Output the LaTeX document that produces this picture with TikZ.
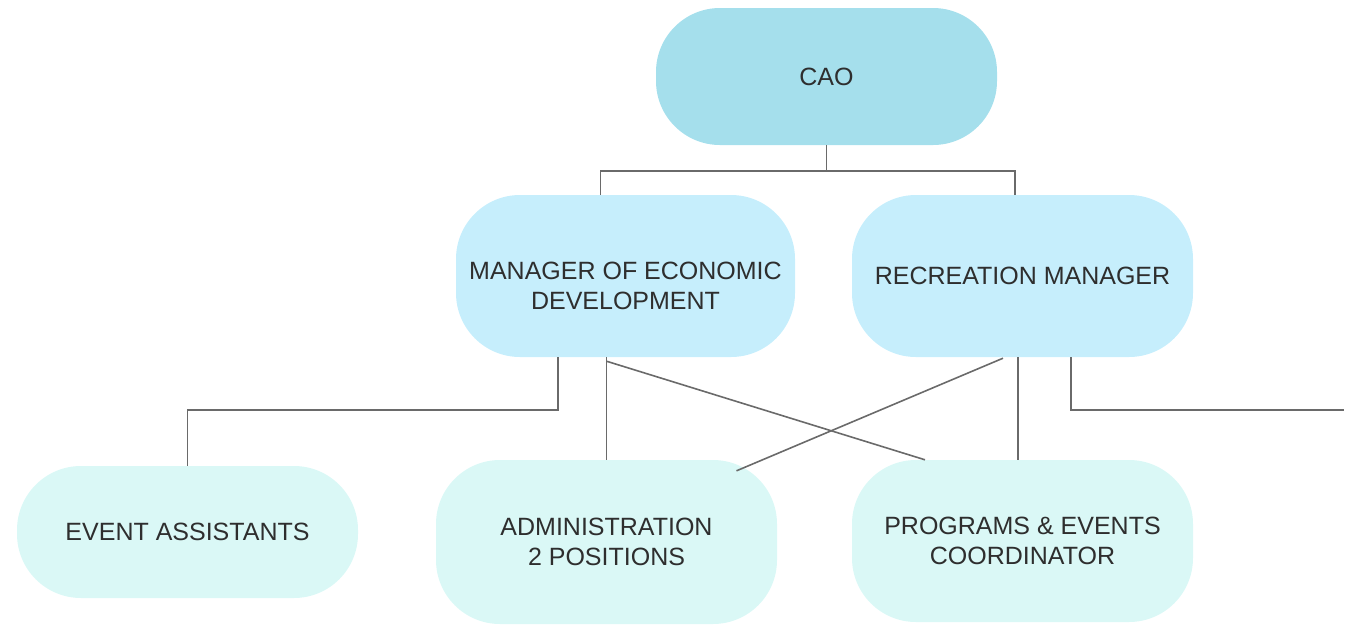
\documentclass[tikz,border=0pt]{standalone}
\usepackage{fontspec}
\setmainfont{Liberation Sans}
\usetikzlibrary{calc}
\definecolor{caofill}{HTML}{A5DFEC}
\definecolor{mgrfill}{HTML}{C6EEFC}
\definecolor{stafffill}{HTML}{DAF8F6}
\definecolor{txt}{HTML}{2E2E2E}
\definecolor{linec}{HTML}{6A6A6A}
\begin{document}
\begin{tikzpicture}[x=1pt,y=-1pt,
  boxfont/.style={font=\fontsize{25}{30}\selectfont, text=txt, align=center},
  box/.style={rounded corners=64pt, minimum width=341pt, boxfont, inner sep=0pt},
  link/.style={draw=linec, line width=1.6pt}]
\useasboundingbox (0,0) rectangle (1358,625);
\node[box, fill=caofill, minimum height=137pt] (cao) at (826.5,76.5) {CAO};
\node[box, fill=mgrfill, minimum height=162pt, minimum width=339pt,
  label={[boxfont, yshift=-10pt]center:{MANAGER OF ECONOMIC\\DEVELOPMENT}}] (med) at (625.5,276) {};
\node[box, fill=mgrfill, minimum height=162pt] (rec) at (1022.5,276) {RECREATION MANAGER};
\node[box, fill=stafffill, minimum height=132pt] (ea) at (187.5,532) {EVENT ASSISTANTS};
\node[box, fill=stafffill, minimum height=164pt] (adm) at (606.5,542) {ADMINISTRATION\\2 POSITIONS};
\node[box, fill=stafffill, minimum height=162pt] (pec) at (1022.5,541) {PROGRAMS \& EVENTS\\COORDINATOR};
% CAO to managers
\draw[link] (cao.south) -- ++(0,26) coordinate (j1);
\draw[link] ($(med.north)+(-25,0)$) |- (j1) -| ($(rec.north)+(-7.5,0)$);
% MED to event assistants
\draw[link] ($(med.south)+(-67.5,0)$) -- ++(0,53) -| (ea.north);
% MED to administration
\draw[link] (med.south -| adm.north) -- (adm.north);
% MED to programs (diagonal)
\draw[link] ($(med.south -| adm.north)+(0,4)$) -- ($(pec.north)+(-97.5,0)$);
% REC to administration (diagonal)
\draw[link] ($(rec.south)+(-19.5,1)$) -- ($(adm.north)+(130,11)$);
% REC to programs
\draw[link] ($(rec.south)+(-4.5,0)$) -- ($(pec.north)+(-4.5,0)$);
% REC to the right
\coordinate (rend) at (1344,410);
\draw[link] ($(rec.south)+(48.5,0)$) |- (rend);
\end{tikzpicture}
\end{document}
